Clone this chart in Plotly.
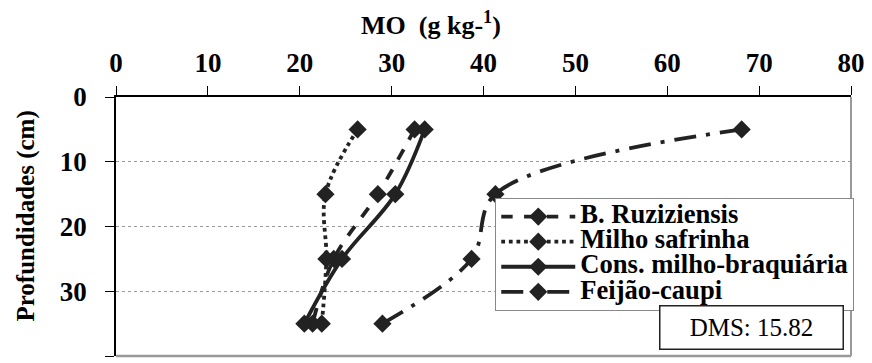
import plotly.graph_objects as go

depths = [5, 15, 25, 35]
series_names = ["B. Ruziziensis", "Milho safrinha", "Cons. milho-braquiária", "Feijão-caupi"]
ruziziensis = [32.5, 28.5, 23.7, 21.4]
milho_safrinha = [26.3, 22.8, 22.9, 22.4]
consorcio = [33.6, 30.4, 24.6, 20.5]
feijao_caupi = [68.1, 41.3, 38.7, 29.0]
x_ticks = [0, 10, 20, 30, 40, 50, 60, 70, 80]
y_ticks = [0, 10, 20, 30, 40]
x_title = "MO  (g kg-<sup>1</sup>)"
y_title = "Profundidades (cm)"
dms_text = "DMS: 15.82"

values = [ruziziensis, milho_safrinha, consorcio, feijao_caupi]
dashes = ["dash", "dot", "solid", "22px,10px,4px,10px"]

FONT = "Liberation Serif"
INK = "#222222"

fig = go.Figure()
for name, vals, dash in zip(series_names, values, dashes):
    fig.add_trace(go.Scatter(
        x=vals, y=depths, mode="lines+markers",
        name='<span style="font-size:26.6px"><b>' + name + "</b></span>",
        line=dict(color=INK, width=3.8, dash=dash, shape="spline", smoothing=1.0),
        marker=dict(symbol="diamond", size=14, color=INK),
    ))

fig.update_layout(
    width=872, height=363,
    margin=dict(l=116, r=16, t=97, b=7),
    paper_bgcolor="white", plot_bgcolor="white",
    font=dict(family=FONT, color="black"),
    showlegend=True,
    legend=dict(
        x=0.516, y=0.61, xanchor="left", yanchor="top",
        bgcolor="white", bordercolor="#888888", borderwidth=1,
        font=dict(family=FONT, size=17, color="black"),
        tracegroupgap=0, itemwidth=74,
    ),
    xaxis=dict(
        side="top", range=[0, 80], tickvals=x_ticks,
        ticktext=["<b>%d</b>" % v for v in x_ticks],
        ticks="outside", ticklen=9, tickcolor="black", tickwidth=1,
        ticklabelstandoff=3,
        showline=True, linecolor="black", linewidth=1.5,
        showgrid=False, zeroline=False,
        tickfont=dict(family=FONT, size=27, color="black"),
    ),
    yaxis=dict(
        range=[40, 0], tickvals=y_ticks,
        ticktext=["<b>%d</b>" % v for v in y_ticks],
        ticks="outside", ticklen=9, tickcolor="black", tickwidth=1,
        ticklabelstandoff=13,
        showline=True, linecolor="black", linewidth=1.5,
        showgrid=True, gridcolor="#999999", griddash="dot", gridwidth=1,
        zeroline=False,
        tickfont=dict(family=FONT, size=27, color="black"),
    ),
)

fig.add_shape(type="line", xref="paper", yref="paper", x0=0, x1=1, y0=0, y1=0,
              line=dict(color="#999999", width=2.5))
fig.add_shape(type="line", xref="paper", yref="paper", x0=1, x1=1, y0=0, y1=1,
              line=dict(color="#999999", width=2))

# axis titles
fig.add_annotation(
    xref="paper", yref="paper", x=(433 - 116) / 740, y=(356 - 24) / 259,
    xanchor="center", yanchor="middle", showarrow=False,
    text="<b>" + x_title + "</b>",
    font=dict(family=FONT, size=26, color="black"),
)
fig.add_annotation(
    xref="paper", yref="paper", x=(25 - 116) / 740, y=(356 - 216) / 259,
    xanchor="center", yanchor="middle", showarrow=False, textangle=-90,
    text="<b>" + y_title + "</b>",
    font=dict(family=FONT, size=25, color="black"),
)

fig.add_annotation(
    xref="paper", yref="paper", x=(756 - 116) / 740, y=(356 - 327) / 259,
    xanchor="center", yanchor="middle",
    text=dms_text, showarrow=False,
    font=dict(family=FONT, size=25, color="black"),
    bordercolor=INK, borderwidth=1.5, bgcolor="white",
    width=180, height=40,
)

fig.write_html("out.html")
